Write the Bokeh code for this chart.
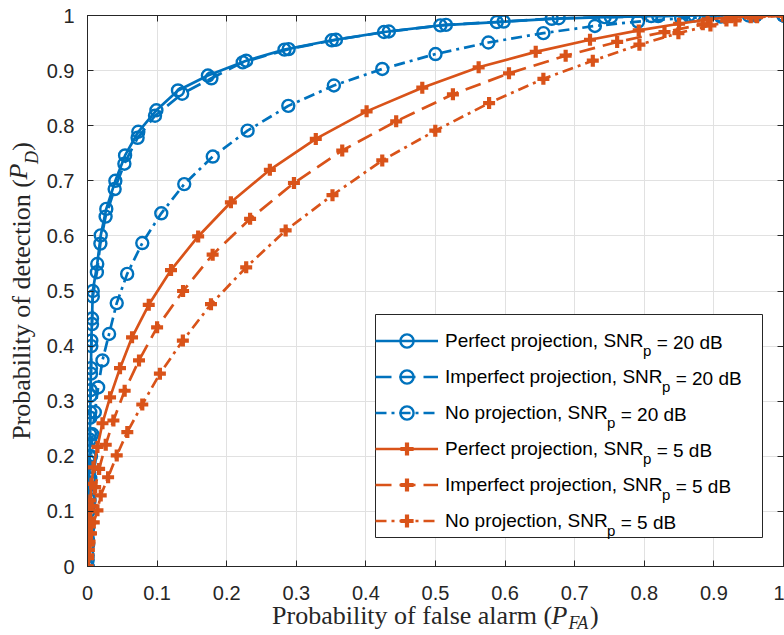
import math
from bokeh.plotting import figure
from bokeh.models import (Range1d, FixedTicker, LinearAxis, Legend, LegendItem, Label,
                          BoxAnnotation)
from bokeh.embed import file_html
from bokeh.resources import INLINE

# ---------------- data ----------------
pfa_perfect_20 = [0, 0.0003, 0.0006, 0.001, 0.0015, 0.002, 0.0025, 0.003, 0.0035, 0.004,
                  0.0045, 0.005, 0.0055, 0.0065, 0.0076, 0.014, 0.019, 0.027, 0.040, 0.054,
                  0.073, 0.099, 0.130, 0.173, 0.228, 0.283, 0.351, 0.426, 0.507, 0.588,
                  0.667, 0.743, 0.810, 0.864, 0.910, 0.950, 1.0]
pd_perfect_20 = [0, 0.02, 0.05, 0.08, 0.11, 0.14, 0.17, 0.20, 0.24, 0.28,
                 0.32, 0.36, 0.41, 0.45, 0.50, 0.549, 0.601, 0.649, 0.700, 0.746,
                 0.789, 0.828, 0.864, 0.891, 0.918, 0.938, 0.955, 0.970, 0.982, 0.988,
                 0.994, 0.997, 0.999, 1.0, 1.0, 1.0, 1.0]

pfa_imperfect_20 = [0, 0.0003, 0.0006, 0.001, 0.0015, 0.002, 0.0025, 0.003, 0.0035, 0.004,
                    0.0045, 0.005, 0.0055, 0.0065, 0.0076, 0.0135, 0.0185, 0.026, 0.039, 0.053,
                    0.072, 0.097, 0.136, 0.178, 0.223, 0.289, 0.357, 0.433, 0.515, 0.598,
                    0.677, 0.752, 0.820, 0.872, 0.920, 0.960, 1.0]
pd_imperfect_20 = [0, 0.012, 0.04, 0.07, 0.10, 0.13, 0.16, 0.19, 0.23, 0.27,
                   0.31, 0.35, 0.40, 0.44, 0.49, 0.534, 0.586, 0.635, 0.685, 0.731,
                   0.778, 0.818, 0.858, 0.886, 0.915, 0.939, 0.956, 0.971, 0.983, 0.989,
                   0.995, 0.997, 0.999, 1.0, 1.0, 1.0, 1.0]

pfa_noproj_20 = [0, 0.001, 0.002, 0.003, 0.004, 0.005, 0.007, 0.0105, 0.0153, 0.0215,
                 0.031, 0.042, 0.057, 0.0787, 0.106, 0.139, 0.180, 0.230, 0.2885, 0.354,
                 0.4235, 0.500, 0.576, 0.655, 0.729, 0.791, 0.853, 0.910, 0.960, 1.0]
pd_noproj_20 = [0, 0.04, 0.08, 0.12, 0.16, 0.20, 0.24, 0.28, 0.325, 0.374,
                0.422, 0.478, 0.531, 0.587, 0.641, 0.694, 0.744, 0.791, 0.836, 0.873,
                0.903, 0.930, 0.951, 0.968, 0.981, 0.989, 0.995, 0.998, 1.0, 1.0]

pfa_perfect_5 = [0, 0.0005, 0.001, 0.0015, 0.002, 0.003, 0.004, 0.0057, 0.0086, 0.0143,
                 0.0215, 0.0324, 0.0467, 0.064, 0.088, 0.120, 0.159, 0.206, 0.262, 0.328,
                 0.401, 0.481, 0.562, 0.644, 0.722, 0.792, 0.850, 0.891, 0.925, 0.960, 1.0]
pd_perfect_5 = [0, 0.02, 0.04, 0.06, 0.08, 0.10, 0.12, 0.15, 0.18, 0.217,
                0.26, 0.307, 0.36, 0.416, 0.475, 0.538, 0.599, 0.661, 0.720, 0.776,
                0.826, 0.869, 0.906, 0.934, 0.956, 0.973, 0.985, 0.993, 0.997, 0.999, 1.0]

pfa_imperfect_5 = [0, 0.001, 0.002, 0.003, 0.004, 0.006, 0.011, 0.0167, 0.0262, 0.0372,
                   0.0534, 0.074, 0.100, 0.1373, 0.1798, 0.2336, 0.2966, 0.366, 0.4435, 0.525,
                   0.6056, 0.687, 0.761, 0.829, 0.884, 0.918, 0.953, 1.0]
pd_imperfect_5 = [0, 0.02, 0.04, 0.06, 0.08, 0.11, 0.144, 0.177, 0.221, 0.265,
                  0.319, 0.374, 0.434, 0.500, 0.566, 0.631, 0.696, 0.755, 0.808, 0.857,
                  0.895, 0.927, 0.952, 0.970, 0.984, 0.991, 0.997, 1.0]

pfa_noproj_5 = [0, 0.001, 0.002, 0.003, 0.005, 0.009, 0.0143, 0.019, 0.0296, 0.042,
                0.0572, 0.0787, 0.104, 0.137, 0.1774, 0.228, 0.2847, 0.352, 0.4235, 0.4997,
                0.577, 0.655, 0.726, 0.793, 0.849, 0.895, 0.931, 0.962, 1.0]
pd_noproj_5 = [0, 0.015, 0.03, 0.045, 0.06, 0.08, 0.102, 0.129, 0.162, 0.2015,
               0.244, 0.294, 0.35, 0.41, 0.476, 0.543, 0.61, 0.674, 0.737, 0.791,
               0.841, 0.885, 0.918, 0.947, 0.968, 0.982, 0.991, 0.997, 1.0]

legend_main = ["Perfect projection, SNR", "Imperfect projection, SNR", "No projection, SNR",
               "Perfect projection, SNR", "Imperfect projection, SNR", "No projection, SNR"]
legend_sub = ["p"] * 6
legend_tail = ["= 20 dB", "= 20 dB", "= 20 dB", "= 5 dB", "= 5 dB", "= 5 dB"]

x_title = ["Probability of false alarm (", "P", "FA", ")"]
y_title = ["Probability of detection (", "P", "D", ")"]

x_ticks = [0, 0.1, 0.2, 0.3, 0.4, 0.5, 0.6, 0.7, 0.8, 0.9, 1]
x_tick_labels = ["0", "0.1", "0.2", "0.3", "0.4", "0.5", "0.6", "0.7", "0.8", "0.9", "1"]
y_ticks = [0, 0.1, 0.2, 0.3, 0.4, 0.5, 0.6, 0.7, 0.8, 0.9, 1]
y_tick_labels = ["0", "0.1", "0.2", "0.3", "0.4", "0.5", "0.6", "0.7", "0.8", "0.9", "1"]

# ---------------- styling ----------------
BLUE = "#0072BD"
ORANGE = "#D95319"
AXC = "#262626"
SANS = "Liberation Sans"
SERIF = "Liberation Serif"

W, H = 784, 635
ML, MR, MT, MB = 84, 1, 15, 69
FRAME_L = ML
FRAME_R = W - MR
FRAME_T = MT
FRAME_B = H - MB

ARIAL = {' ': 278, ',': 278, '=': 584, '0': 556, '2': 556, '5': 556, 'B': 667, 'I': 278,
         'N': 722, 'P': 667, 'R': 722, 'S': 667, 'c': 500, 'd': 556, 'e': 556, 'f': 278,
         'i': 222, 'j': 222, 'm': 833, 'n': 556, 'o': 556, 'p': 556, 'r': 333, 't': 278,
         '.': 278, '1': 556, '9': 556}
TIMES = {' ': 250, '(': 333, ')': 333, 'P': 556, 'a': 444, 'b': 500, 'c': 444, 'd': 500,
         'e': 444, 'f': 333, 'i': 278, 'l': 278, 'm': 778, 'n': 500, 'o': 500, 'r': 333,
         's': 389, 't': 278, 'y': 500}
TIMES_I = {'P': 611, 'F': 611, 'A': 611, 'D': 722}
SERIF_ASC, SERIF_DESC = 0.891, 0.216


def tw(s, metrics, size):
    return sum(metrics.get(c, 500) for c in s) * size / 1000.0


p = figure(width=W, height=H, output_backend="svg", toolbar_location=None,
           x_range=Range1d(0, 1), y_range=Range1d(0, 1),
           min_border_left=ML, min_border_right=MR, min_border_top=MT, min_border_bottom=MB,
           background_fill_color="white", border_fill_color="white")
p.outline_line_color = AXC
p.outline_line_width = 1
p.extra_x_ranges = {"px": Range1d(FRAME_L, FRAME_R)}
p.extra_y_ranges = {"py": Range1d(FRAME_B, FRAME_T)}

TICK_FS = 20
XSTAND, YSTAND = 19, 13
xa = p.below[0]
ya = p.left[0]
xa.ticker = FixedTicker(ticks=x_ticks)
ya.ticker = FixedTicker(ticks=y_ticks)
xa.major_label_overrides = dict(zip(x_ticks, x_tick_labels))
ya.major_label_overrides = dict(zip(y_ticks, y_tick_labels))
for ax in (xa, ya):
    ax.axis_line_color = AXC
    ax.major_tick_line_color = AXC
    ax.major_tick_in = 6
    ax.major_tick_out = 0
    ax.minor_tick_line_color = None
    ax.major_label_text_font = SANS
    ax.major_label_text_font_size = f"{TICK_FS}px"
    ax.major_label_text_color = AXC
xa.major_label_standoff = XSTAND
ya.major_label_standoff = YSTAND

for place, tick in (("above", x_ticks), ("right", y_ticks)):
    ax = LinearAxis(ticker=FixedTicker(ticks=tick), major_label_text_font_size="0px",
                    major_label_standoff=0, major_tick_in=6, major_tick_out=0,
                    minor_tick_line_color=None, axis_line_color=AXC,
                    major_tick_line_color=AXC)
    ax.major_label_overrides = {t: "" for t in tick}
    p.add_layout(ax, place)

p.xgrid.grid_line_color = "#e1e1e1"
p.ygrid.grid_line_color = "#e1e1e1"
p.xgrid.grid_line_width = 1
p.ygrid.grid_line_width = 1

DASHED = "16 8"
DASHDOT = "11 5 3 5"
series = [
    (pfa_perfect_20, pd_perfect_20, BLUE, "solid", "circle"),
    (pfa_imperfect_20, pd_imperfect_20, BLUE, DASHED, "circle"),
    (pfa_noproj_20, pd_noproj_20, BLUE, DASHDOT, "circle"),
    (pfa_perfect_5, pd_perfect_5, ORANGE, "solid", "cross"),
    (pfa_imperfect_5, pd_imperfect_5, ORANGE, DASHED, "cross"),
    (pfa_noproj_5, pd_noproj_5, ORANGE, DASHDOT, "cross"),
]

items = []
for i, (xs, ys, col, dash, mk) in enumerate(series):
    ln = p.line(xs, ys, line_color=col, line_width=2.7, line_dash=dash)
    if mk == "circle":
        sc = p.scatter(xs, ys, marker="circle", size=12, line_color=col, line_width=2.4,
                       fill_alpha=0)
    else:
        sc = p.scatter(xs, ys, marker="cross", size=12, line_color=col, line_width=4.2)
    items.append(LegendItem(label=legend_main[i], renderers=[ln, sc]))

# ---------------- legend ----------------
LEG_L, LEG_R = 372, 759     # canvas x of legend box
LEG_B = 537                 # canvas y of legend box bottom
PAD, SPACING, ITEM_H, GLW, STAND = 5, 3, 33, 63, 7
LFS = 19
SUBFS = 15
n = len(items)
box_h = 2 * PAD + n * ITEM_H + (n - 1) * SPACING
box_top = LEG_B - box_h

p.add_layout(BoxAnnotation(left=LEG_L - FRAME_L, right=LEG_R - FRAME_L,
                           bottom=FRAME_B - LEG_B, top=FRAME_B - box_top,
                           left_units="screen", right_units="screen",
                           bottom_units="screen", top_units="screen",
                           fill_color="white", fill_alpha=1.0,
                           line_color=AXC, line_width=1, line_alpha=1.0))

leg = Legend(items=items, location=(LEG_L - FRAME_L, FRAME_B - LEG_B), padding=PAD,
             spacing=SPACING, margin=0, glyph_width=GLW, glyph_height=ITEM_H,
             label_height=ITEM_H, label_standoff=STAND,
             label_text_font=SANS, label_text_font_size=f"{LFS}px", label_text_color="black",
             border_line_color=None, background_fill_color=None, background_fill_alpha=0.0)
p.add_layout(leg)

text_x0 = LEG_L + PAD + GLW + STAND
for i in range(n):
    center = box_top + PAD + i * (ITEM_H + SPACING) + ITEM_H / 2.0
    base = center + 0.3465 * LFS
    xm = text_x0 + tw(legend_main[i], ARIAL, LFS) - 6
    p.add_layout(Label(x=xm - FRAME_L, y=FRAME_B - (base + 7.5), x_units="screen",
                       y_units="screen", level="overlay",
                       text=legend_sub[i], text_font=SANS, text_font_size=f"{SUBFS}px",
                       text_color="black", text_align="left", text_baseline="alphabetic"))
    xt = xm + tw(legend_sub[i], ARIAL, SUBFS) + tw(" ", ARIAL, LFS)
    p.add_layout(Label(x=xt - FRAME_L, y=FRAME_B - base, x_units="screen",
                       y_units="screen", level="overlay",
                       text=legend_tail[i], text_font=SANS, text_font_size=f"{LFS}px",
                       text_color="black", text_align="left", text_baseline="alphabetic"))

# ---------------- axis titles ----------------
# Composed from pieces so that P_FA / P_D are italic with a lowered subscript.  The pieces
# are tick labels of extra label-only axes (pixel-valued ranges) stacked in the side panels;
# their standoffs pull every piece back onto one text line.
AFS, ASUB = 26, 18
X_BASE = 622        # canvas y of the x-title baseline
Y_BASE = 32.5       # canvas x of the (rotated) y-title baseline
SUB_DROP_X = 4.5
SUB_DROP_Y = 5
# measured layout extents of the side-panel labels (px)
XA_EXTENT = XSTAND + 16.3
BOX_H = {AFS: 31.8, ASUB: 24.0}
piece_style = [(TIMES, AFS, "normal", False), (TIMES_I, AFS, "italic", False),
               (TIMES_I, ASUB, "italic", True), (TIMES, AFS, "normal", False)]
groups = [("normal", AFS, False), ("italic", AFS, False), ("italic", ASUB, True)]


def piece_centers(pieces, start, direction):
    out = []
    pos = start
    for t, (m, s, st, sub) in zip(pieces, piece_style):
        w = tw(t, m, s)
        out.append(pos + direction * w / 2.0)
        pos += direction * w
    return out


def label_axis(place, rng, ticks, texts, size, style, standoff):
    kw = dict(x_range_name=rng) if place == "below" else dict(y_range_name=rng)
    ax = LinearAxis(ticker=FixedTicker(ticks=ticks),
                    major_label_overrides=dict(zip(ticks, texts)),
                    major_label_standoff=standoff,
                    major_label_orientation="horizontal" if place == "below" else "parallel",
                    major_label_text_font=SERIF, major_label_text_font_size=f"{size}px",
                    major_label_text_font_style=style, major_label_text_color=AXC,
                    axis_line_color=None, major_tick_line_color=None,
                    minor_tick_line_color=None, major_tick_in=0, major_tick_out=0, **kw)
    p.add_layout(ax, place)


# x title
total = sum(tw(t, m, s) for t, (m, s, st, sub) in zip(x_title, piece_style))
xc = piece_centers(x_title, (FRAME_L + FRAME_R) / 2.0 - total / 2.0, +1)
cum = XA_EXTENT
for st, size, sub in groups:
    idx = [k for k, ps in enumerate(piece_style) if (ps[2], ps[1], ps[3]) == (st, size, sub)]
    base = X_BASE + (SUB_DROP_X if sub else 0)
    top = base - SERIF_ASC * size
    s = int(round(top - (FRAME_B + cum)))
    label_axis("below", "px", [int(round(xc[k])) for k in idx], [x_title[k] for k in idx],
               size, st, s)
    cum += s + BOX_H[size]

# y title (reads bottom to top)
total = sum(tw(t, m, s) for t, (m, s, st, sub) in zip(y_title, piece_style))
yc = piece_centers(y_title, (FRAME_T + FRAME_B) / 2.0 + total / 2.0, -1)
cum = YSTAND + tw("0.9", ARIAL, TICK_FS)
for st, size, sub in [groups[2], groups[0], groups[1]]:
    idx = [k for k, ps in enumerate(piece_style) if (ps[2], ps[1], ps[3]) == (st, size, sub)]
    base = Y_BASE + (SUB_DROP_Y if sub else 0)
    right = base + SERIF_DESC * size
    s = int(round((FRAME_L - cum) - right))
    label_axis("left", "py", [int(round(yc[k])) for k in idx], [y_title[k] for k in idx],
               size, st, s)
    cum += s + (SERIF_ASC + SERIF_DESC) * size

open("out.html", "w").write(file_html(p, INLINE))
